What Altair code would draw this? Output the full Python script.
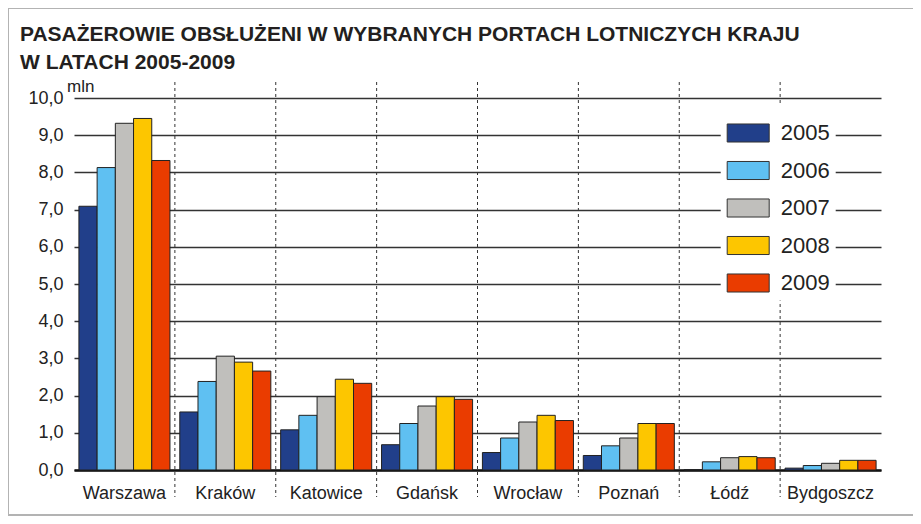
import altair as alt
import pandas as pd

cities = ["Warszawa", "Kraków", "Katowice", "Gdańsk", "Wrocław", "Poznań", "Łódź", "Bydgoszcz"]
years = ["2005", "2006", "2007", "2008", "2009"]
v2005 = [7.09, 1.56, 1.08, 0.68, 0.47, 0.39, 0.01, 0.05]
v2006 = [8.13, 2.38, 1.47, 1.25, 0.86, 0.65, 0.22, 0.12]
v2007 = [9.32, 3.06, 1.97, 1.72, 1.29, 0.86, 0.33, 0.18]
v2008 = [9.45, 2.90, 2.44, 1.97, 1.47, 1.25, 0.36, 0.26]
v2009 = [8.32, 2.66, 2.33, 1.90, 1.33, 1.25, 0.33, 0.26]
colors = ["#213f8a", "#5fc0f2", "#c0bfbc", "#fdc600", "#ea3c00"]
title_lines = ["PASAŻEROWIE  OBSŁUŻENI  W  WYBRANYCH  PORTACH  LOTNICZYCH  KRAJU",
               "W  LATACH  2005-2009"]

series = [v2005, v2006, v2007, v2008, v2009]
rows = []
for y, vals in zip(years, series):
    for c, v in zip(cities, vals):
        rows.append({"city": c, "year": y, "value": v})
df = pd.DataFrame(rows)
sep_df = pd.DataFrame({"city": cities[1:]})

FONT = "Liberation Sans, Arial, sans-serif"
W, H = 807, 372

xscale = alt.Scale(domain=cities, paddingInner=0, paddingOuter=0)
xaxis = alt.Axis(title=None, labelAngle=0, ticks=False, grid=False,
                 bandPosition=0.5,
                 domain=True, domainColor="#111111", domainWidth=2.5,
                 labelFontSize=18, labelPadding=14, labelColor="#222222",
                 labelFont=FONT)

bars = alt.Chart(df).mark_bar(stroke="#222222", strokeWidth=1).encode(
    x=alt.X("city:N", scale=xscale, sort=cities, axis=xaxis),
    xOffset=alt.XOffset("year:N", scale=alt.Scale(paddingInner=0, paddingOuter=0.27)),
    y=alt.Y("value:Q", scale=alt.Scale(domain=[0, 10], nice=False),
            axis=alt.Axis(title=None, values=list(range(11)), domain=False, ticks=False,
                          grid=True, gridColor="#333333", gridWidth=1.3,
                          labelExpr="replace(format(datum.value, '.1f'), '.', ',')",
                          labelFontSize=18, labelPadding=11, labelColor="#222222",
                          labelFont=FONT)),
    color=alt.Color("year:N", scale=alt.Scale(domain=years, range=colors),
                    legend=alt.Legend(title=None, orient="none", legendX=646.7, legendY=7.5,
                                      direction="vertical", fillColor="white",
                                      padding=6, labelFontSize=22, labelFont=FONT,
                                      labelColor="#222222", labelOffset=11,
                                      rowPadding=4.5,
                                      symbolType="M-1,-0.43L1,-0.43L1,0.43L-1,0.43Z",
                                      symbolSize=1764, symbolStrokeColor="#333333",
                                      symbolStrokeWidth=1, symbolOpacity=1)),
)

seps = alt.Chart(sep_df).mark_rule(color="#333333", strokeWidth=1, strokeDash=[3, 3]).encode(
    x=alt.X("city:N", scale=xscale, sort=cities, bandPosition=0, axis=xaxis),
    y=alt.value(-16),
    y2=alt.value(399),
)

one = alt.Data(values=[{"a": 1}])

frame = alt.Chart(one).mark_rect(
    fill="transparent", stroke="#b3b3b3", strokeWidth=2
).encode(x=alt.value(-66), x2=alt.value(900), y=alt.value(-90), y2=alt.value(417))

mln = alt.Chart(one).mark_text(
    text="mln", align="left", baseline="alphabetic", fontSize=17, font=FONT, color="#222222"
).encode(x=alt.value(-7), y=alt.value(-6))

t1 = alt.Chart(one).mark_text(
    text=title_lines[0], align="left", baseline="alphabetic", fontSize=21,
    fontWeight="bold", font=FONT, color="#231f20"
).encode(x=alt.value(-54), y=alt.value(-57))

t2 = alt.Chart(one).mark_text(
    text=title_lines[1], align="left", baseline="alphabetic", fontSize=21,
    fontWeight="bold", font=FONT, color="#231f20"
).encode(x=alt.value(-54), y=alt.value(-29))

chart = alt.layer(frame, seps, bars, mln, t1, t2).properties(
    width=W, height=H,
    autosize=alt.AutoSizeParams(type="none"),
    padding={"left": 66, "top": 90, "right": 32, "bottom": 46},
).configure_view(stroke=None)

chart.save("out.html", embed_options={"renderer": "svg", "actions": False})
